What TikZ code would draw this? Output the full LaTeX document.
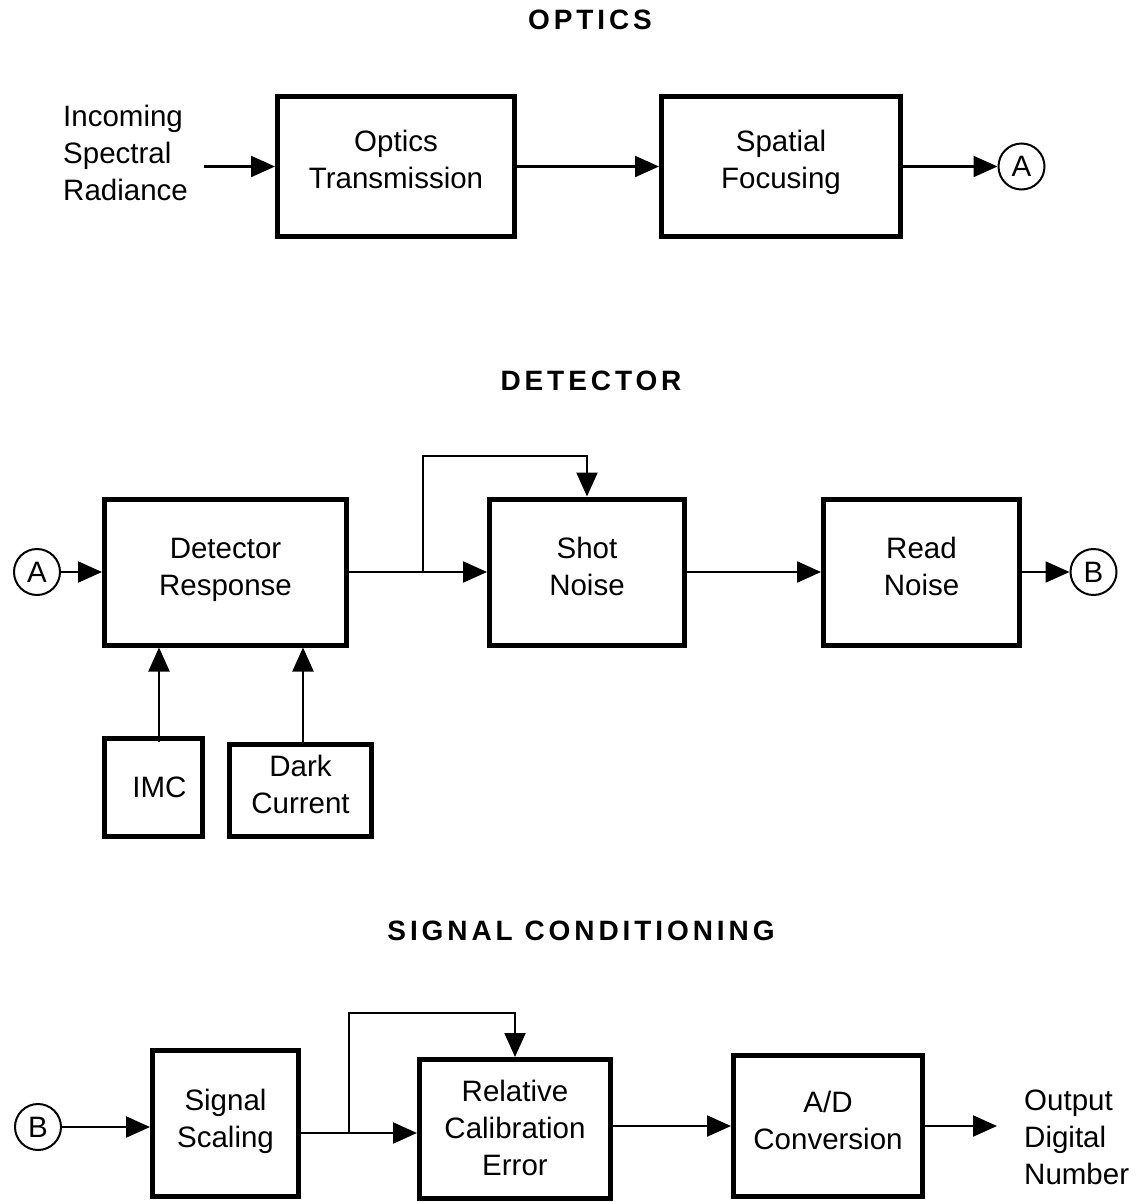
\documentclass[tikz,border=0pt]{standalone}
\usepackage{fontspec}
\setmainfont{Liberation Sans}
\usetikzlibrary{arrows.meta,calc}
\begin{document}
\begin{tikzpicture}[x=1pt,y=-1pt,
  txt/.style={font=\fontsize{29.5}{37}\selectfont, align=center, inner sep=0pt},
  blk/.style={draw, line width=5pt, rectangle, inner sep=0pt},
  circ/.style={draw, circle, line width=2pt, minimum size=46pt, inner sep=0pt, font=\fontsize{29.5}{37}\selectfont},
  ttl/.style={font=\fontsize{28}{32}\selectfont\bfseries\addfontfeature{LetterSpace=14}, inner sep=0pt},
  ln/.style={line width=2.2pt},
  arr/.style={line width=2.2pt, -{Triangle[length=24pt,width=21pt]}}]
\useasboundingbox (0,0) rectangle (1144,1202);

% ---------- OPTICS ----------
\node[ttl] (t1) at (590,20) {OPTICS};
\node[txt, anchor=west, align=left] (inc) at (63,153) {Incoming\\Spectral\\Radiance};
\coordinate (incend) at (204,166.5);
\node[blk, minimum width=237pt, minimum height=140pt] (ot) at (396,166.5) {};
\node[txt] (otl) at ([yshift=7pt]ot.center) {Optics\\Transmission};
\node[blk, minimum width=239pt, minimum height=140pt] (sf) at (781,166.5) {};
\node[txt] (sfl) at ([yshift=4pt]sf.center) {Spatial\\Focusing};
\node[circ] (a1) at (1021.5,166.5) {A};
\draw[arr] (incend) -- (incend -| ot.west);
\draw[arr] (ot.east) -- (sf.west);
\draw[arr] (sf.east) -- (a1.west);

% ---------- DETECTOR ----------
\node[ttl] (t2) at (591,381) {DETECTOR};
\node[circ] (a2) at (37,572) {A};
\node[blk, minimum width=242pt, minimum height=146pt] (dr) at (225.5,572) {};
\node[txt] (drl) at ([yshift=2pt]dr.center) {Detector\\Response};
\node[blk, minimum width=195pt, minimum height=146pt] (sn) at (587,572) {};
\node[txt] (snl) at ([yshift=6pt]sn.center) {Shot\\Noise};
\node[blk, minimum width=196pt, minimum height=146pt] (rn) at (921.5,572) {};
\node[txt] (rnl) at ([yshift=6pt]rn.center) {Read\\Noise};
\node[circ] (b1) at (1093.5,572) {B};
\node[blk, minimum width=98pt, minimum height=98pt] (imc) at (153.5,787.5) {};
\node[txt] (imcl) at ([xshift=6pt]imc.center) {IMC};
\node[blk, minimum width=142pt, minimum height=92pt] (dc) at (300.5,790.5) {};
\node[txt] (dcl) at ([yshift=6pt]dc.center) {Dark\\Current};
\coordinate (br1) at (423,572);
\coordinate (tp1) at (587,456);
\draw[arr] (a2.east) -- (dr.west);
\draw[arr] (dr.east) -- (sn.west);
\draw[arr] (br1) |- (tp1) -- (sn.north);
\draw[arr] (sn.east) -- (rn.west);
\draw[arr] (rn.east) -- (b1.west);
\draw[arr] ([xshift=5.5pt,yshift=-6pt]imc.north) -- ([xshift=5.5pt]imc.north |- dr.south);
\draw[arr] ([xshift=2.5pt]dc.north) -- ([xshift=2.5pt]dc.north |- dr.south);

% ---------- SIGNAL CONDITIONING ----------
\node[ttl] (t3) at (581,931) {SIGNAL CONDITIONING};
\node[circ] (b2) at (38,1127) {B};
\node[blk, minimum width=146pt, minimum height=146pt] (ss) at (225.5,1123.5) {};
\node[txt] (ssl) at ([yshift=2pt]ss.center) {Signal\\Scaling};
\node[blk, minimum width=191pt, minimum height=139pt] (rce) at (515,1129) {};
\node[txt] (rcel) at ([yshift=1pt]rce.center) {Relative\\Calibration\\Error};
\node[blk, minimum width=189pt, minimum height=141pt] (ad) at (828,1126) {};
\node[txt] (adl) at ([yshift=6pt]ad.center) {A/D\\Conversion};
\node[txt, anchor=west, align=left] (out) at (1024,1137) {Output\\Digital\\Number};
\coordinate (br2) at (349,1133);
\coordinate (tp2) at (515,1013);
\coordinate (outend) at (997,1126);
\draw[arr] (b2.east) -- (b2.east -| ss.west);
\draw[ln] (br2 -| ss.east) -- (br2);
\draw[arr] (br2) -- (br2 -| rce.west);
\draw[arr] (br2) |- (tp2) -- (rce.north);
\draw[arr] (ad.west -| rce.east) -- (ad.west);
\draw[arr] (ad.east) -- (outend);
\end{tikzpicture}
\end{document}
